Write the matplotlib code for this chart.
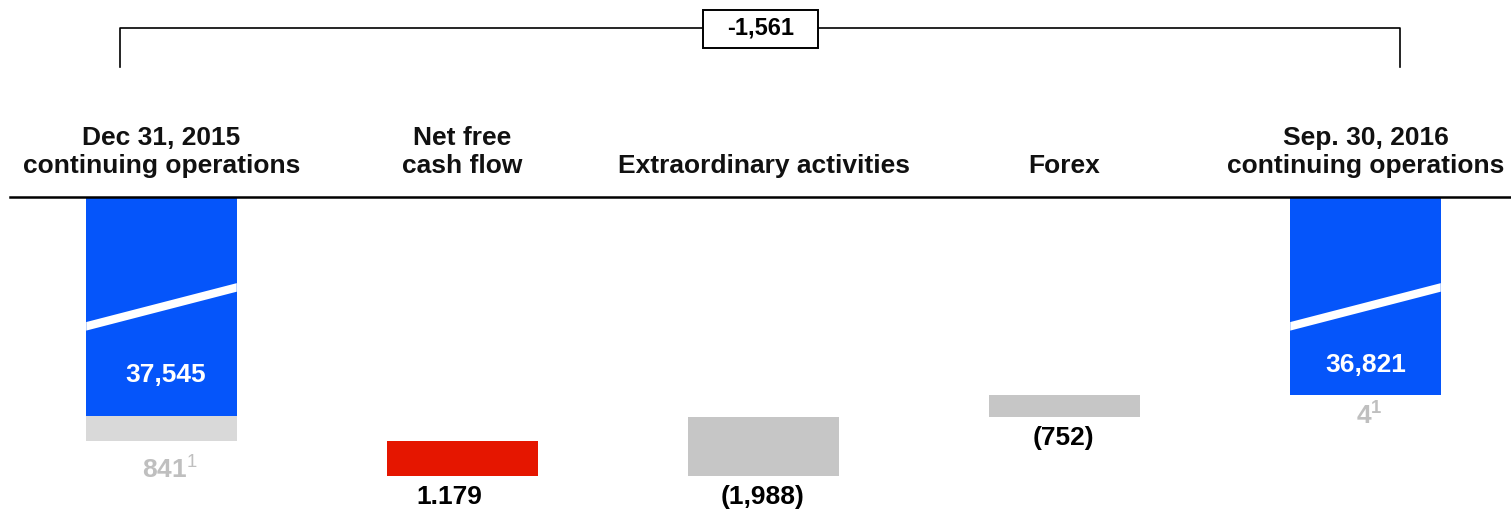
import matplotlib
matplotlib.use("Agg")
import matplotlib.pyplot as plt
from matplotlib.patches import Rectangle
from matplotlib.transforms import blended_transform_factory

plt.rcParams['font.family'] = ['Liberation Sans', 'DejaVu Sans']
plt.rcParams['mathtext.fontset'] = 'custom'
plt.rcParams['mathtext.rm'] = 'Liberation Sans'
plt.rcParams['mathtext.bf'] = 'Liberation Sans:bold'

# data
categories = ['Dec 31, 2015\ncontinuing operations', 'Net free\ncash flow',
              'Extraordinary activities', 'Forex',
              'Sep. 30, 2016\ncontinuing operations']
start_main = 37545
start_other = 841
flows = [1179, -1988, -752]
flow_labels = ['1.179', '(1,988)', '(752)']
end_main = 36821
end_other = 4
total_label = '-1,561'

BLUE = '#0555FA'
RED = '#E51600'
GREY = '#C6C6C6'
LIGHT = '#D9D9D9'
GREY_TXT = '#BFBFBF'
FS = 19

W, H = 1511, 511
fig = plt.figure(figsize=(W / 100, H / 100), dpi=100)
top_px = 197
ax = fig.add_axes([0, 0, 1, (H - top_px) / H])
ax.axis('off')

# value axis is inverted and broken: only the upper part of the totals is shown
scale = 33.93  # units per pixel
y_top = 30107
ax.set_ylim(y_top + (H - top_px) * scale, y_top)
ax.set_xlim(-161.5 / 301, (W - 161.5) / 301)

bw = 0.5
n = len(categories)

# start bar
ax.bar(0, start_main, width=bw, color=BLUE)
ax.bar(0, start_other, bottom=start_main, width=bw, color=LIGHT)

# flows
level = start_main + start_other
for i, f in enumerate(flows):
    x = i + 1
    ax.bar(x, f, bottom=level, width=bw, color=RED if f > 0 else GREY)
    low = max(level, level + f)
    ax.annotate(flow_labels[i], (x, low), xytext=(-13 if i == 0 else -1, -21),
                textcoords='offset pixels', ha='center', va='center',
                fontsize=FS, fontweight='bold', color='black')
    level += f

# end bar
ax.bar(n - 1, end_main, width=bw, color=BLUE)
ax.bar(n - 1, end_other, bottom=end_main, width=bw, color=LIGHT)

# break marks on the totals
for x in [0, n - 1]:
    xl, xr = x - bw / 2, x + bw / 2
    ax.fill([xl, xr, xr, xl], [34350, 33030, 33320, 34640], color='white', lw=0)

# labels of the totals
ax.annotate(f'{start_main:,}', (0, start_main), xytext=(4, 41), textcoords='offset pixels',
            ha='center', va='center', fontsize=FS, fontweight='bold', color='white')
ax.annotate(f'{end_main:,}', (n - 1, end_main), xytext=(0, 30), textcoords='offset pixels',
            ha='center', va='center', fontsize=FS, fontweight='bold', color='white')
ax.annotate(r'$\mathbf{%d}^{\mathrm{1}}$' % start_other, (0, start_main + start_other),
            xytext=(8, -28), textcoords='offset pixels', ha='center', va='center',
            fontsize=FS, color=GREY_TXT)
ax.annotate(r'$\mathbf{%d}^{\mathbf{1}}$' % end_other, (n - 1, end_main + end_other),
            xytext=(4, -20), textcoords='offset pixels', ha='center', va='center',
            fontsize=FS, color=GREY_TXT)

# category headers and top rule
tr = blended_transform_factory(ax.transData, fig.transFigure)
for i, c in enumerate(categories):
    ax.text(i, 1 - 173 / H, c, transform=tr, ha='center', va='baseline',
            multialignment='center', fontsize=FS, fontweight='bold',
            linespacing=1.22, color='#111111')
fig.add_artist(plt.Line2D([10 / W, 1], [1 - top_px / H] * 2, color='black', lw=1.8))

# bracket with the total change
yb = 1 - 28 / H
yv = 1 - 67 / H
xa, xb = 0 - 0.138, n - 1 + 0.115
ax.plot([xa, xa, xb, xb], [yv, yb, yb, yv], transform=tr, color='black', lw=1.2,
        clip_on=False)
mid = (n - 1) / 2 - 0.01
bx_w = 115 / 301
ax.add_patch(Rectangle((mid - bx_w / 2, 1 - 48 / H), bx_w, 38 / H, transform=tr,
                       facecolor='white', edgecolor='black', lw=1.4, clip_on=False,
                       zorder=3))
ax.text(mid, yb, total_label, transform=tr, ha='center', va='center', fontsize=17,
        fontweight='bold', zorder=4)

fig.savefig('out.png', dpi=100)
